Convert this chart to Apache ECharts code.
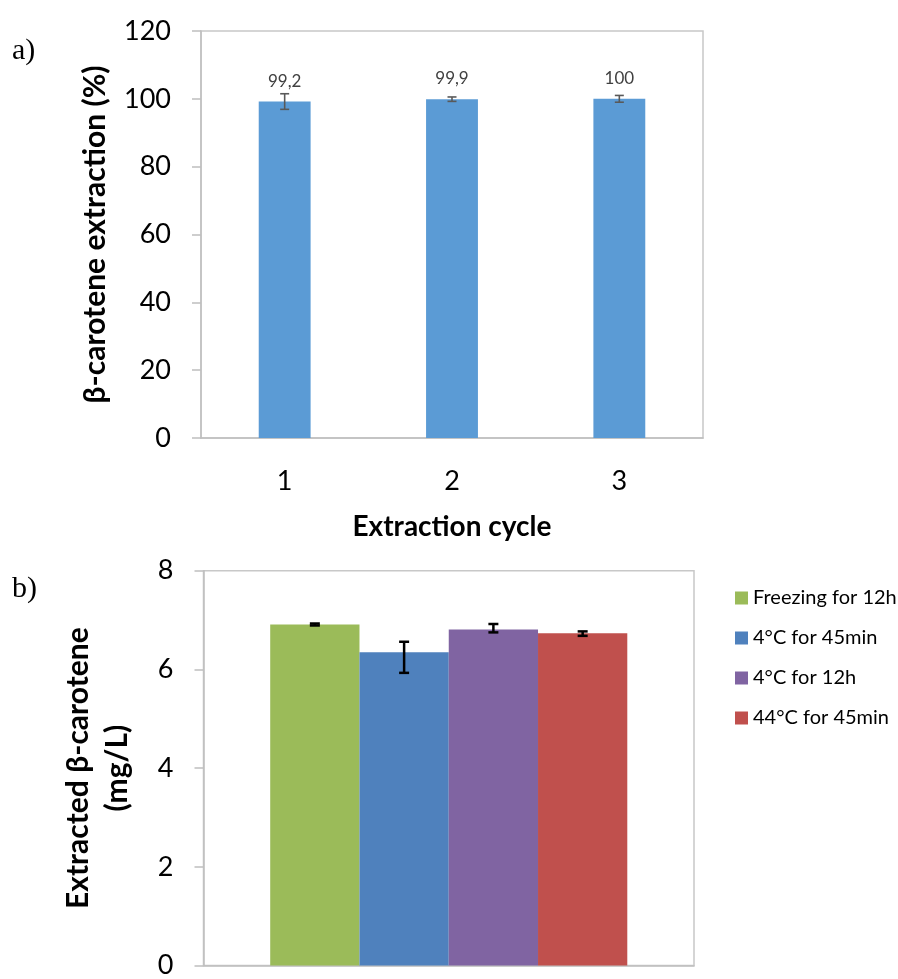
<!DOCTYPE html>
<html><head><meta charset="utf-8">
<script src="https://cdn.jsdelivr.net/npm/echarts@6/dist/echarts.min.js"></script>
<style>html,body{margin:0;padding:0;background:#fff}#c{width:898px;height:979px}</style>
</head><body><div id="c"></div>
<script>
// ---- Data ----
const cycleCategories = ['1', '2', '3'];
const extractionPct = [99.2, 99.9, 100];
const extractionErr = [2.3, 0.65, 1.0];
const yTicksTop = [0, 20, 40, 60, 80, 100, 120];

const treatments = ['Freezing for 12h', '4°C for 45min', '4°C for 12h', '44°C for 45min'];
const carotene = [6.91, 6.35, 6.81, 6.73];
const caroteneErrLow = [6.89, 5.93, 6.75, 6.68];
const caroteneErrHigh = [6.93, 6.56, 6.92, 6.77];
const yTicksBottom = [0, 2, 4, 6, 8];

const treatmentColors = ['#9BBB59', '#4F81BD', '#8064A2', '#C0504D'];
const FONT = 'Lato, "Open Sans", sans-serif';
const GAP = 0.272;

const chart = echarts.init(document.getElementById('c'), null, {renderer: 'canvas'});

const axisGray = '#bfbfbf';

const series = [];
series.push({
  type: 'bar', xAxisIndex: 0, yAxisIndex: 0, barWidth: '31%',
  data: extractionPct, itemStyle: {color: '#5B9BD5'},
  label: {show: true, position: 'top', distance: 12, color: '#404040', fontFamily: FONT, fontSize: 17,
    formatter: p => String(p.value).replace('.', ',')},
  z: 2
});
series.push({
  type: 'custom', xAxisIndex: 0, yAxisIndex: 0, z: 5,
  data: extractionPct.map((v, i) => [i, v - extractionErr[i], v + extractionErr[i]]),
  renderItem: (params, api) => {
    const lo = api.coord([api.value(0), api.value(1)]);
    const hi = api.coord([api.value(0), api.value(2)]);
    const w = 4.5, st = {stroke: '#595959', lineWidth: 1.6};
    return {type: 'group', children: [
      {type: 'line', shape: {x1: lo[0], y1: lo[1], x2: hi[0], y2: hi[1]}, style: st},
      {type: 'line', shape: {x1: lo[0]-w, y1: lo[1], x2: lo[0]+w, y2: lo[1]}, style: st},
      {type: 'line', shape: {x1: hi[0]-w, y1: hi[1], x2: hi[0]+w, y2: hi[1]}, style: st}
    ]};
  }
});
treatments.forEach((name, i) => {
  series.push({
    type: 'bar', name: name, xAxisIndex: 1, yAxisIndex: 1,
    barGap: '0%', barCategoryGap: (GAP * 100) + '%',
    data: [carotene[i]], itemStyle: {color: treatmentColors[i]}, z: 2
  });
});
series.push({
  type: 'custom', xAxisIndex: 1, yAxisIndex: 1, z: 5,
  data: treatments.map((n, i) => [0, caroteneErrLow[i], caroteneErrHigh[i], i]),
  renderItem: (params, api) => {
    const band = api.size([1, 0])[0];
    const total = band * (1 - GAP);
    const bw = total / treatments.length;
    const off = -total / 2 + (api.value(3) + 0.5) * bw;
    const lo = api.coord([api.value(0), api.value(1)]);
    const hi = api.coord([api.value(0), api.value(2)]);
    const x = lo[0] + off;
    const w = 5, st = {stroke: '#000', lineWidth: 2.5};
    return {type: 'group', children: [
      {type: 'line', shape: {x1: x, y1: lo[1], x2: x, y2: hi[1]}, style: st},
      {type: 'line', shape: {x1: x-w, y1: lo[1], x2: x+w, y2: lo[1]}, style: st},
      {type: 'line', shape: {x1: x-w, y1: hi[1], x2: x+w, y2: hi[1]}, style: st}
    ]};
  }
});

chart.setOption({
  animation: false,
  backgroundColor: '#fff',
  textStyle: {fontFamily: FONT},
  grid: [
    {left: 201, top: 31, width: 502, height: 407, show: true, borderColor: '#c8c8c8', borderWidth: 1.5, backgroundColor: 'transparent'},
    {left: 203.5, top: 570.7, width: 490.5, height: 401.3, show: true, borderColor: '#c8c8c8', borderWidth: 1.5, backgroundColor: 'transparent'}
  ],
  xAxis: [
    {type: 'category', gridIndex: 0, data: cycleCategories,
     axisLine: {lineStyle: {color: axisGray, width: 1.5}}, axisTick: {show: false},
     axisLabel: {margin: 30, color: '#000', fontSize: 27, fontFamily: FONT},
     name: 'Extraction cycle', nameLocation: 'middle', nameGap: 75,
     nameTextStyle: {color: '#000', fontSize: 28, fontWeight: 'bold', fontFamily: FONT}},
    {type: 'category', gridIndex: 1, data: [''],
     axisLine: {lineStyle: {color: axisGray, width: 1.5}}, axisTick: {show: false},
     axisLabel: {show: false}}
  ],
  yAxis: [
    {type: 'value', gridIndex: 0, min: yTicksTop[0], max: yTicksTop[yTicksTop.length-1], interval: yTicksTop[1]-yTicksTop[0],
     splitLine: {show: false},
     axisLine: {show: true, lineStyle: {color: axisGray, width: 1.5}},
     axisTick: {show: true, length: 9, lineStyle: {color: axisGray, width: 1.5}},
     axisLabel: {margin: 30, color: '#000', fontSize: 27, fontFamily: FONT},
     name: 'β-carotene extraction (%)', nameLocation: 'middle', nameGap: 91,
     nameTextStyle: {color: '#000', fontSize: 30, fontWeight: 'bold', fontFamily: FONT}},
    {type: 'value', gridIndex: 1, min: yTicksBottom[0], max: yTicksBottom[yTicksBottom.length-1], interval: yTicksBottom[1]-yTicksBottom[0],
     splitLine: {show: false},
     axisLine: {show: true, lineStyle: {color: axisGray, width: 1.5}},
     axisTick: {show: true, length: 9, lineStyle: {color: axisGray, width: 1.5}},
     axisLabel: {margin: 30, color: '#000', fontSize: 27, fontFamily: FONT},
     name: 'Extracted β-carotene\n(mg/L)', nameLocation: 'middle', nameGap: 67,
     nameTextStyle: {color: '#000', fontSize: 30, fontWeight: 'bold', fontFamily: FONT, lineHeight: 39, align: 'center'}}
  ],
  legend: {
    data: treatments, orient: 'vertical', left: 730, top: 583,
    itemWidth: 13, itemHeight: 13, itemGap: 20, icon: 'rect',
    textStyle: {color: '#000', fontSize: 20, fontFamily: FONT, lineHeight: 20}
  },
  graphic: [
    {type: 'text', left: 12, top: 36, style: {text: 'a)', fontFamily: '"Liberation Serif", serif', fontSize: 30, fill: '#000'}},
    {type: 'text', left: 12, top: 574, style: {text: 'b)', fontFamily: '"Liberation Serif", serif', fontSize: 30, fill: '#000'}}
  ],
  series: series
});
</script>
</body></html>
